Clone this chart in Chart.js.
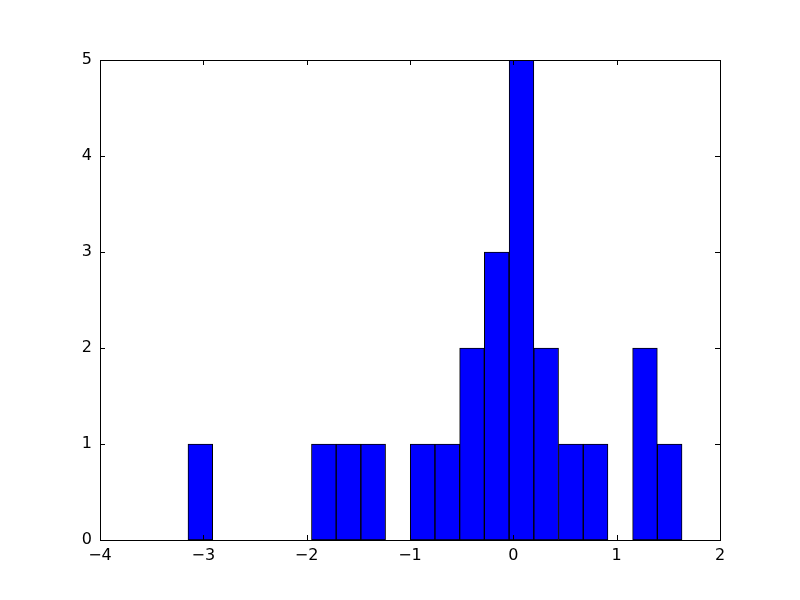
<!DOCTYPE html>
<html>
<head>
<meta charset="utf-8">
<script src="https://cdn.jsdelivr.net/npm/chart.js@4"></script>
<style>
  html, body { margin: 0; padding: 0; background: #fff; }
  #wrap { width: 800px; height: 600px; }
</style>
</head>
<body>
<div id="wrap"><canvas id="c" width="800" height="600"></canvas></div>
<script>
// Histogram bin centres (20 bins) and counts
const binCenters = [-3.029, -2.790, -2.551, -2.312, -2.073, -1.834, -1.595, -1.356, -1.117, -0.878,
                    -0.639, -0.400, -0.161, 0.079, 0.318, 0.557, 0.796, 1.035, 1.274, 1.513];
const counts     = [1, 0, 0, 0, 0, 1, 1, 1, 0, 1,
                    1, 2, 3, 5, 2, 1, 1, 0, 2, 1];
const xTicks = [-4, -3, -2, -1, 0, 1, 2];
const yTicks = [0, 1, 2, 3, 4, 5];

const fmt = v => (v < 0 ? '\u2212' + Math.abs(v) : String(v));

const framePlugin = {
  id: 'frame',
  afterDatasetsDraw(chart) {
    const { ctx, chartArea: a, scales } = chart;
    const L = 5;
    ctx.save();
    ctx.strokeStyle = '#000';
    ctx.lineWidth = 1;
    ctx.beginPath();
    scales.x.ticks.forEach((t, i) => {
      const px = Math.round(scales.x.getPixelForTick(i)) + 0.5;
      ctx.moveTo(px, a.bottom); ctx.lineTo(px, a.bottom - L);
      ctx.moveTo(px, a.top); ctx.lineTo(px, a.top + L);
    });
    scales.y.ticks.forEach((t, i) => {
      const py = Math.round(scales.y.getPixelForTick(i)) + 0.5;
      ctx.moveTo(a.left, py); ctx.lineTo(a.left + L, py);
      ctx.moveTo(a.right, py); ctx.lineTo(a.right - L, py);
    });
    ctx.stroke();
    ctx.strokeRect(Math.round(a.left) + 0.5, Math.round(a.top) + 0.5,
                   Math.round(a.right - a.left), Math.round(a.bottom - a.top));
    ctx.restore();
  }
};

new Chart(document.getElementById('c'), {
  type: 'bar',
  data: {
    datasets: [{
      data: binCenters.map((x, i) => ({ x: x, y: counts[i] })),
      backgroundColor: '#0000ff',
      borderColor: '#000000',
      borderWidth: 1,
      borderSkipped: false,
      barPercentage: 1.0,
      categoryPercentage: 1.0
    }]
  },
  options: {
    responsive: false,
    animation: false,
    events: [],
    layout: { padding: { top: 60, right: 80, left: 0, bottom: 0 } },
    plugins: { legend: { display: false }, tooltip: { enabled: false } },
    scales: {
      x: {
        type: 'linear',
        offset: false,
        min: -4, max: 2,
        afterBuildTicks: s => { s.ticks = xTicks.map(v => ({ value: v })); },
        afterFit: s => { s.height = 60; },
        grid: { display: false, drawTicks: false, offset: false },
        border: { display: false },
        ticks: {
          padding: 6,
          color: '#000',
          font: { family: 'DejaVu Sans', size: 16 },
          callback: v => fmt(v),
          maxRotation: 0
        }
      },
      y: {
        min: 0, max: 5,
        afterBuildTicks: s => { s.ticks = yTicks.map(v => ({ value: v })); },
        afterFit: s => { s.width = 100; },
        grid: { display: false, drawTicks: false },
        border: { display: false },
        ticks: {
          padding: 8,
          color: '#000',
          font: { family: 'DejaVu Sans', size: 16 },
          callback: v => fmt(v)
        }
      }
    }
  },
  plugins: [framePlugin]
});
</script>
</body>
</html>
